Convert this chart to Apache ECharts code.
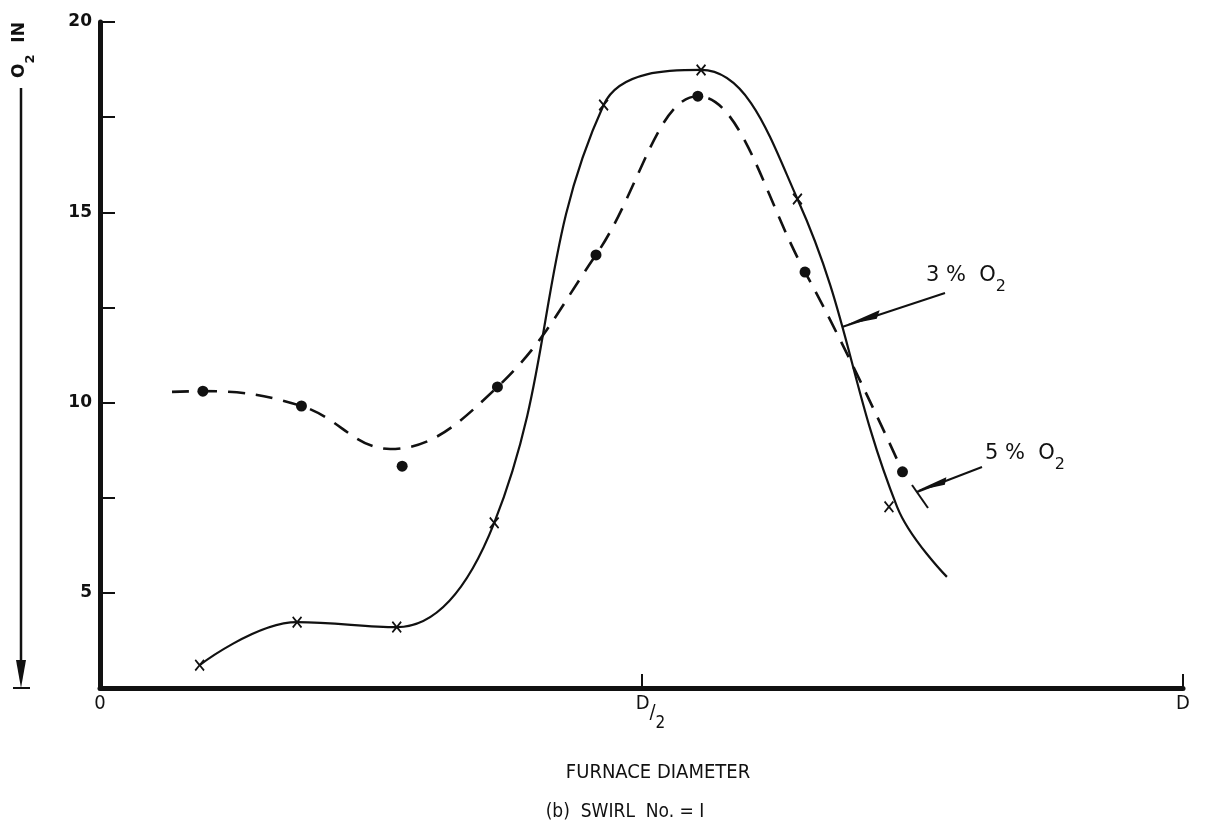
<!DOCTYPE html>
<html>
<head>
<meta charset="utf-8">
<script src="https://cdn.jsdelivr.net/npm/echarts@6/dist/echarts.min.js"></script>
<style>
html,body{margin:0;padding:0;background:#fff;}
#c{width:1208px;height:827px;}
</style>
</head>
<body>
<div id="c"></div>
<script>
// x in fractions of furnace diameter D, y in % O2
const xTickLabels = {0: '0', 0.5: 'D/2', 1: 'D'};
const yLabelValues = [5, 10, 15, 20];

// 3 % O2 (solid line, x markers)
const o3MarkX = [0.092, 0.182, 0.274, 0.364, 0.465, 0.555, 0.644, 0.7285];
const o3MarkY = [3.10, 4.23, 4.10, 6.84, 17.82, 18.74, 15.35, 7.26];
const o3CurveX = [0.092, 0.182, 0.274, 0.364, 0.465, 0.555, 0.644, 0.736, 0.782];
const o3CurveY = [3.10, 4.23, 4.10, 6.84, 17.82, 18.74, 15.35, 7.26, 5.42];

// 5 % O2 (dashed line, dot markers)
const o5MarkX = [0.095, 0.186, 0.279, 0.367, 0.458, 0.552, 0.651, 0.741];
const o5MarkY = [10.30, 9.91, 8.33, 10.41, 13.88, 18.05, 13.43, 8.18];
const o5CurveX = [0.0665, 0.095, 0.186, 0.268, 0.367, 0.458, 0.552, 0.651, 0.737];
const o5CurveY = [10.28, 10.30, 9.91, 8.78, 10.41, 13.88, 18.05, 13.43, 8.44];

const zip = (a, b) => a.map((v, i) => [v, b[i]]);
const X_SYMBOL = 'path://M0,1.2L1.2,0L5,3.8L8.8,0L10,1.2L6.2,5L10,8.8L8.8,10L5,6.2L1.2,10L0,8.8L3.8,5Z';
const FONT_NARROW = "'Liberation Sans Narrow','DejaVu Sans Condensed','Liberation Sans',sans-serif";

const chart = echarts.init(document.getElementById('c'), null, {renderer: 'canvas'});
chart.setOption({
  backgroundColor: '#fff',
  animation: false,
  grid: {left: 100, right: 25, top: 22, bottom: 139, containLabel: false},
  xAxis: {
    type: 'value', min: 0, max: 1, interval: 0.5,
    axisLine: {show: true, onZero: false, lineStyle: {color: '#111', width: 5}},
    axisTick: {show: true, inside: true, length: 14, lineStyle: {color: '#111', width: 2}},
    splitLine: {show: false},
    axisLabel: {
      margin: 6, color: '#111', fontSize: 20, fontFamily: FONT_NARROW,
      formatter: v => v === 0.5 ? '{d|D}{s|/}{t|2}' : (xTickLabels[v] || ''),
      rich: {
        d: {fontSize: 20, fontFamily: FONT_NARROW, color: '#111', lineHeight: 38, verticalAlign: 'top', padding: [0, 0, 0, 18]},
        s: {fontSize: 20, fontFamily: FONT_NARROW, color: '#111', lineHeight: 38, verticalAlign: 'middle'},
        t: {fontSize: 17, fontFamily: FONT_NARROW, color: '#111', lineHeight: 38, verticalAlign: 'bottom'}
      }
    }
  },
  yAxis: {
    type: 'value', min: 2.5, max: 20, interval: 2.5,
    axisLine: {show: true, onZero: false, lineStyle: {color: '#111', width: 5}},
    axisTick: {show: true, inside: true, length: 15, lineStyle: {color: '#111', width: 2}},
    splitLine: {show: false},
    axisLabel: {
      margin: 8, color: '#111', fontSize: 17, fontWeight: 'bold', fontFamily: "'DejaVu Sans',sans-serif",
      formatter: v => yLabelValues.includes(v) ? String(v) : ''
    }
  },
  series: [
    {
      name: '3 % O2 curve', type: 'line', data: zip(o3CurveX, o3CurveY),
      smooth: 0.4, showSymbol: false, silent: true,
      lineStyle: {color: '#111', width: 2.2}
    },
    {
      name: '5 % O2 curve', type: 'line', data: zip(o5CurveX, o5CurveY),
      smooth: 0.4, showSymbol: false, silent: true,
      lineStyle: {color: '#111', width: 2.6, type: [17, 11]}
    },
    {
      name: '3 % O2', type: 'scatter', data: zip(o3MarkX, o3MarkY),
      symbol: X_SYMBOL, symbolSize: [10, 12], itemStyle: {color: '#111', opacity: 1}
    },
    {
      name: '5 % O2', type: 'scatter', data: zip(o5MarkX, o5MarkY),
      symbol: 'circle', symbolSize: 11, itemStyle: {color: '#111', opacity: 1}
    }
  ],
  graphic: [
    // y-axis name with downward arrow
    {type: 'text', x: 24, y: 78, rotation: Math.PI / 2,
     style: {text: '{o|O}{t|2}{o|  IN}', fill: '#111', align: 'left', verticalAlign: 'middle',
       rich: {o: {fontSize: 17, fontWeight: 'bold', fontFamily: "'DejaVu Sans',sans-serif", fill: '#111', lineHeight: 26, verticalAlign: 'top'},
              t: {fontSize: 13, fontWeight: 'bold', fontFamily: "'DejaVu Sans',sans-serif", fill: '#111', lineHeight: 26, verticalAlign: 'bottom'}}}},
    {type: 'line', shape: {x1: 21, y1: 88, x2: 21, y2: 672}, style: {stroke: '#111', lineWidth: 2.5}},
    {type: 'polygon', shape: {points: [[16, 660], [26, 660], [21, 688]]}, style: {fill: '#111'}},
    {type: 'line', shape: {x1: 13, y1: 688, x2: 30, y2: 688}, style: {stroke: '#111', lineWidth: 2}},

    // 3 % O2 annotation
    {type: 'text', x: 926, y: 280,
     style: {text: '{a|3 %  O}{b|2}', align: 'left', verticalAlign: 'middle',
       rich: {a: {fontSize: 21, fontFamily: "'DejaVu Sans',sans-serif", fill: '#111', lineHeight: 30, verticalAlign: 'top'},
              b: {fontSize: 16, fontFamily: "'DejaVu Sans',sans-serif", fill: '#111', lineHeight: 30, verticalAlign: 'bottom'}}}},
    {type: 'line', shape: {x1: 945, y1: 293, x2: 842, y2: 327}, style: {stroke: '#111', lineWidth: 2}},
    {type: 'polygon', shape: {points: [[878, 312], [855, 322], [876, 318]]}, style: {fill: '#111', stroke: '#111', lineWidth: 2}},

    // 5 % O2 annotation
    {type: 'text', x: 985, y: 458,
     style: {text: '{a|5 %  O}{b|2}', align: 'left', verticalAlign: 'middle',
       rich: {a: {fontSize: 21, fontFamily: "'DejaVu Sans',sans-serif", fill: '#111', lineHeight: 30, verticalAlign: 'top'},
              b: {fontSize: 16, fontFamily: "'DejaVu Sans',sans-serif", fill: '#111', lineHeight: 30, verticalAlign: 'bottom'}}}},
    {type: 'line', shape: {x1: 982, y1: 467, x2: 917, y2: 492}, style: {stroke: '#111', lineWidth: 2}},
    {type: 'polygon', shape: {points: [[945, 479], [925, 488], [944, 484]]}, style: {fill: '#111', stroke: '#111', lineWidth: 2}},
    {type: 'line', shape: {x1: 912, y1: 485, x2: 928, y2: 508}, style: {stroke: '#111', lineWidth: 2}},

    // axis title and caption
    {type: 'text', x: 658, y: 773,
     style: {text: 'FURNACE DIAMETER', fill: '#111', font: "20px " + FONT_NARROW, align: 'center', verticalAlign: 'middle'}},
    {type: 'text', x: 625, y: 812,
     style: {text: '(b)  SWIRL  No. = I', fill: '#111', font: "19px " + FONT_NARROW, align: 'center', verticalAlign: 'middle'}}
  ]
});
</script>
</body>
</html>
